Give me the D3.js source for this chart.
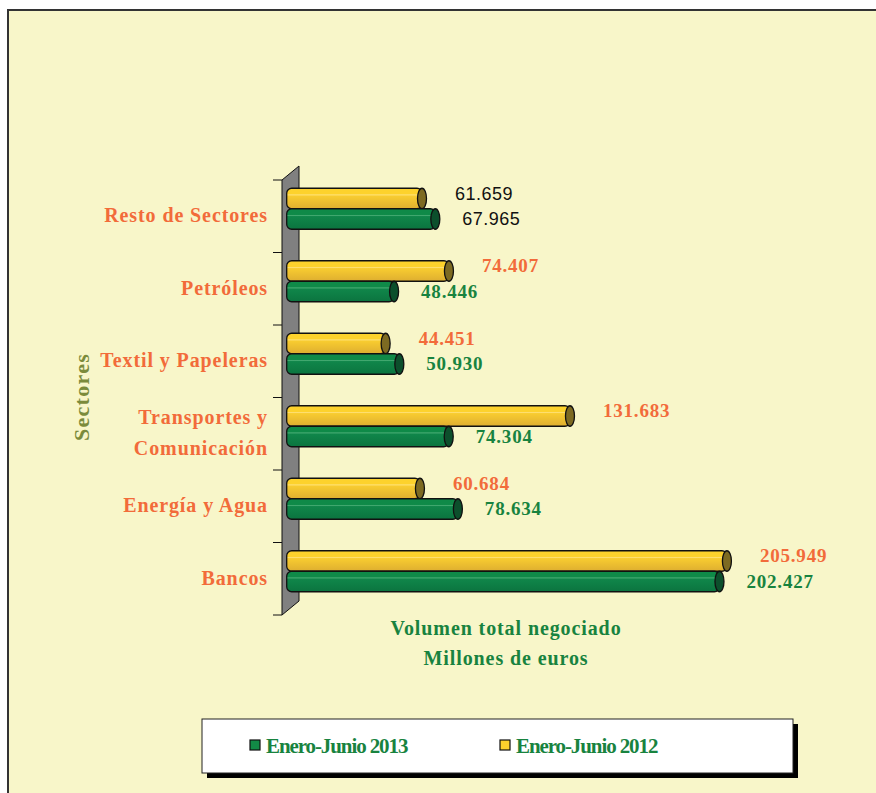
<!DOCTYPE html>
<html>
<head>
<meta charset="utf-8">
<script src="https://cdn.jsdelivr.net/npm/d3@7"></script>
<style>
  html, body { margin: 0; padding: 0; background: #ffffff; }
  svg { display: block; }
</style>
</head>
<body>
<div id="chart"></div>
<script>
// categories (top to bottom) and series values, millones de euros
const sectors = ["Resto de Sectores", "Petróleos", "Textil y Papeleras", "Transportes y\nComunicación", "Energía y Agua", "Bancos"];
const values2013 = [67965, 48446, 50930, 74304, 78634, 202427];
const values2012 = [61659, 74407, 44451, 131683, 60684, 205949];
const seriesNames = ["Enero-Junio 2013", "Enero-Junio 2012"];
const axisTitle = ["Volumen total negociado", "Millones de euros"];
const yTitle = "Sectores";

const width = 876, height = 793;
const serif = "'Liberation Serif', 'Times New Roman', serif";
const sans = "'Liberation Sans', Arial, sans-serif";
const orange = "#f26b3a";
const green = "#18833f";
const es = d3.formatLocale({ decimal: ",", thousands: ".", grouping: [3], currency: ["", " €"] });
const fmt = es.format(",d");

const svg = d3.select("#chart").append("svg")
  .attr("width", width)
  .attr("height", height);

const defs = svg.append("defs");
function cyl(id, stops) {
  const g = defs.append("linearGradient").attr("id", id)
    .attr("x1", "0%").attr("x2", "0%").attr("y1", "0%").attr("y2", "100%");
  g.selectAll("stop").data(stops).enter().append("stop")
    .attr("offset", d => d[0]).attr("stop-color", d => d[1]);
}
cyl("gYellow", [["0%", "#fdd22c"], ["28%", "#fdd22c"], ["32%", "#ffe27a"], ["38%", "#f8cc30"], ["100%", "#deae30"]]);
cyl("gGreen", [["0%", "#0f8a48"], ["28%", "#0f8a48"], ["32%", "#49ad75"], ["38%", "#10864a"], ["100%", "#0b743f"]]);

// background frame
svg.append("rect")
  .attr("x", 8).attr("y", 10)
  .attr("width", width).attr("height", height)
  .attr("fill", "#f8f6c9")
  .attr("stroke", "#333").attr("stroke-width", 2);

const x = d3.scaleLinear().domain([0, 250000]).range([291.7, 820]);
const y = d3.scaleBand().domain(sectors).range([180, 615]).paddingInner(0);

// wall
const wx = 282, depthX = 17, depthY = 14;
svg.append("path")
  .attr("d", `M${wx},${y.range()[0]} L${wx + depthX},${y.range()[0] - depthY} L${wx + depthX},${y.range()[1] - depthY} L${wx},${y.range()[1]} Z`)
  .attr("fill", "#808080")
  .attr("stroke", "#111").attr("stroke-width", 1);

// axis ticks on the wall's front edge
const ticks = sectors.map(s => y(s)).concat([y.range()[1]]);
svg.append("g").selectAll("line").data(ticks).enter().append("line")
  .attr("x1", wx - 9).attr("x2", wx)
  .attr("y1", d => d).attr("y2", d => d)
  .attr("stroke", "#111").attr("stroke-width", 1);

// category labels
const catG = svg.append("g");
sectors.forEach(s => {
  const lines = s.split("\n");
  const cy = y(s) + y.bandwidth() / 2;
  const t = catG.append("text")
    .attr("x", 268)
    .attr("text-anchor", "end")
    .attr("font-family", serif)
    .attr("font-weight", "bold")
    .attr("font-size", 20)
    .attr("letter-spacing", 0.9)
    .attr("fill", orange);
  lines.forEach((l, i) => {
    t.append("tspan")
      .attr("x", 268)
      .attr("y", cy + 6 + (i - (lines.length - 1) / 2) * 31)
      .text(l);
  });
});

// bars
const barH = 20.5;
const barG = svg.append("g");
function drawBar(v, top, fill, cap) {
  const x0 = x(0) - 5, x1 = x(v);
  barG.append("rect")
    .attr("x", x0).attr("y", top)
    .attr("width", x1 - x0).attr("height", barH)
    .attr("rx", 5).attr("ry", 5)
    .attr("fill", fill)
    .attr("stroke", "#111").attr("stroke-width", 1.3);
  barG.append("ellipse")
    .attr("cx", x1).attr("cy", top + barH / 2)
    .attr("rx", 4.5).attr("ry", barH / 2)
    .attr("fill", cap)
    .attr("stroke", "#111").attr("stroke-width", 1.3);
}

const labG = svg.append("g");
function drawLabel(v, xPos, cy, color, plain) {
  labG.append("text")
    .attr("x", xPos)
    .attr("y", cy + 6)
    .attr("font-family", plain ? sans : serif)
    .attr("font-weight", plain ? "normal" : "bold")
    .attr("font-size", plain ? 18 : 19)
    .attr("letter-spacing", plain ? 0.5 : 0.8)
    .attr("fill", plain ? "#111" : color)
    .text(fmt(v));
}

sectors.forEach((s, i) => {
  const top = y(s) + y.bandwidth() / 2 - 28;
  drawBar(values2012[i], top, "url(#gYellow)", "#7d6a22");
  drawBar(values2013[i], top + barH, "url(#gGreen)", "#0c4f2c");
  const plain = i === 0;
  drawLabel(values2012[i], x(values2012[i]) + 33, top + barH / 2 - 5, orange, plain);
  drawLabel(values2013[i], x(values2013[i]) + 27, top + barH * 1.5, green, plain);
});

// x axis title
svg.append("g").selectAll("text").data(axisTitle).enter().append("text")
  .attr("x", 506)
  .attr("y", (d, i) => 635 + i * 30)
  .attr("text-anchor", "middle")
  .attr("font-family", serif)
  .attr("font-weight", "bold")
  .attr("font-size", 20)
  .attr("letter-spacing", 0.9)
  .attr("fill", green)
  .text(d => d);

// y axis title
svg.append("text")
  .attr("transform", "translate(89,397) rotate(-90)")
  .attr("text-anchor", "middle")
  .attr("font-family", serif)
  .attr("font-weight", "bold")
  .attr("font-size", 22)
  .attr("letter-spacing", 1.3)
  .attr("fill", "#7b8b3b")
  .text(yTitle);

// legend
const lg = svg.append("g");
lg.append("rect")
  .attr("x", 207).attr("y", 724).attr("width", 591).attr("height", 54)
  .attr("fill", "#000");
lg.append("rect")
  .attr("x", 202).attr("y", 719).attr("width", 591).attr("height", 54)
  .attr("fill", "#fff").attr("stroke", "#222").attr("stroke-width", 1);
const legendColors = ["#128a46", "#fdd22c"];
const legendX = [250, 500];
seriesNames.forEach((n, i) => {
  lg.append("rect")
    .attr("x", legendX[i]).attr("y", 740)
    .attr("width", 10).attr("height", 10)
    .attr("fill", legendColors[i])
    .attr("stroke", "#111").attr("stroke-width", 1.2);
  lg.append("text")
    .attr("x", legendX[i] + 16).attr("y", 753)
    .attr("font-family", serif)
    .attr("font-weight", "bold")
    .attr("font-size", 21)
    .attr("letter-spacing", -1.1)
    .attr("fill", green)
    .text(n);
});
</script>
</body>
</html>
